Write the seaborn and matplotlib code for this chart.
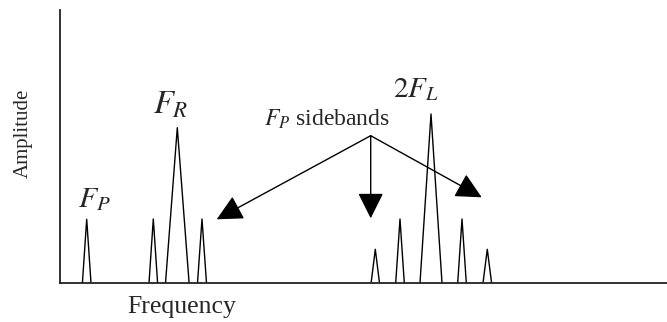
import matplotlib
matplotlib.use("Agg")
import matplotlib.pyplot as plt
import seaborn as sns
import pandas as pd
import numpy as np

# Peak data (frequency position, amplitude, half base width) in arbitrary units
peak_names = ["FP", "SB1", "FR", "SB2", "SB3", "SB4", "2FL", "SB5", "SB6"]
peak_freq = [26.7, 93.3, 117.3, 142.0, 315.3, 340.0, 371.0, 402.0, 427.3]
peak_amp = [63.7, 64.0, 155.3, 64.0, 33.7, 64.0, 169.0, 64.0, 33.7]
peak_halfwidth = [4.3, 4.3, 11.8, 4.5, 4.2, 4.3, 11.0, 4.3, 4.3]

# Arrow annotation: source point and targets
arrow_src = (310.7, 147.3)
arrow_targets = [(156.7, 63.7), (310.7, 64.7), (421.7, 85.7)]

rows = []
for n, f, a, w in zip(peak_names, peak_freq, peak_amp, peak_halfwidth):
    rows.append(dict(peak=n, order=0, x=f - w, y=0.0))
    rows.append(dict(peak=n, order=1, x=f, y=a))
    rows.append(dict(peak=n, order=2, x=f + w, y=0.0))
df = pd.DataFrame(rows)

sns.set_style("white")
plt.rcParams["mathtext.fontset"] = "stix"
plt.rcParams["font.family"] = ["Liberation Serif", "DejaVu Serif"]

W, H = 667, 322
fig = plt.figure(figsize=(W / 100, H / 100), dpi=100)
ax = fig.add_axes([60 / W, (H - 283) / H, (W - 60) / W, (283 - 10) / H])

sns.lineplot(data=df, x="x", y="y", units="peak", estimator=None, sort=False,
             color="black", linewidth=1.0, ax=ax, legend=False)

ax.set_xlim(0, W - 60)
ax.set_ylim(0, 273)
ax.set_xticks([])
ax.set_yticks([])
ax.set_xlabel("")
ax.set_ylabel("")
for s in ["top", "right"]:
    ax.spines[s].set_visible(False)
for s in ["left", "bottom"]:
    ax.spines[s].set_color("#222222")
    ax.spines[s].set_linewidth(1.3)

for tx, ty in arrow_targets:
    ax.annotate("", xy=(tx, ty), xytext=arrow_src,
                arrowprops=dict(arrowstyle="-|>,head_length=0.8,head_width=0.4",
                                color="black", lw=1.0, mutation_scale=20,
                                shrinkA=0, shrinkB=0))

ax.text(18, 76, r"$F_P$", fontsize=21.5, ha="left", va="baseline")
ax.text(93, 170, r"$F_R$", fontsize=23.5, ha="left", va="baseline")
ax.text(333, 186, r"$\mathit{2}F_L$", fontsize=21, ha="left", va="baseline")
ax.text(204, 157, r"$F_P$" + " sidebands", fontsize=17, ha="left", va="baseline")

fig.text(182 / W, 1 - 307 / H, "Frequency", fontsize=18.5, ha="center", va="center")
fig.text(23 / W, 1 - 133 / H, "Amplitude", fontsize=15, ha="center", va="center",
         rotation=90)

fig.savefig("out.png", dpi=100)
